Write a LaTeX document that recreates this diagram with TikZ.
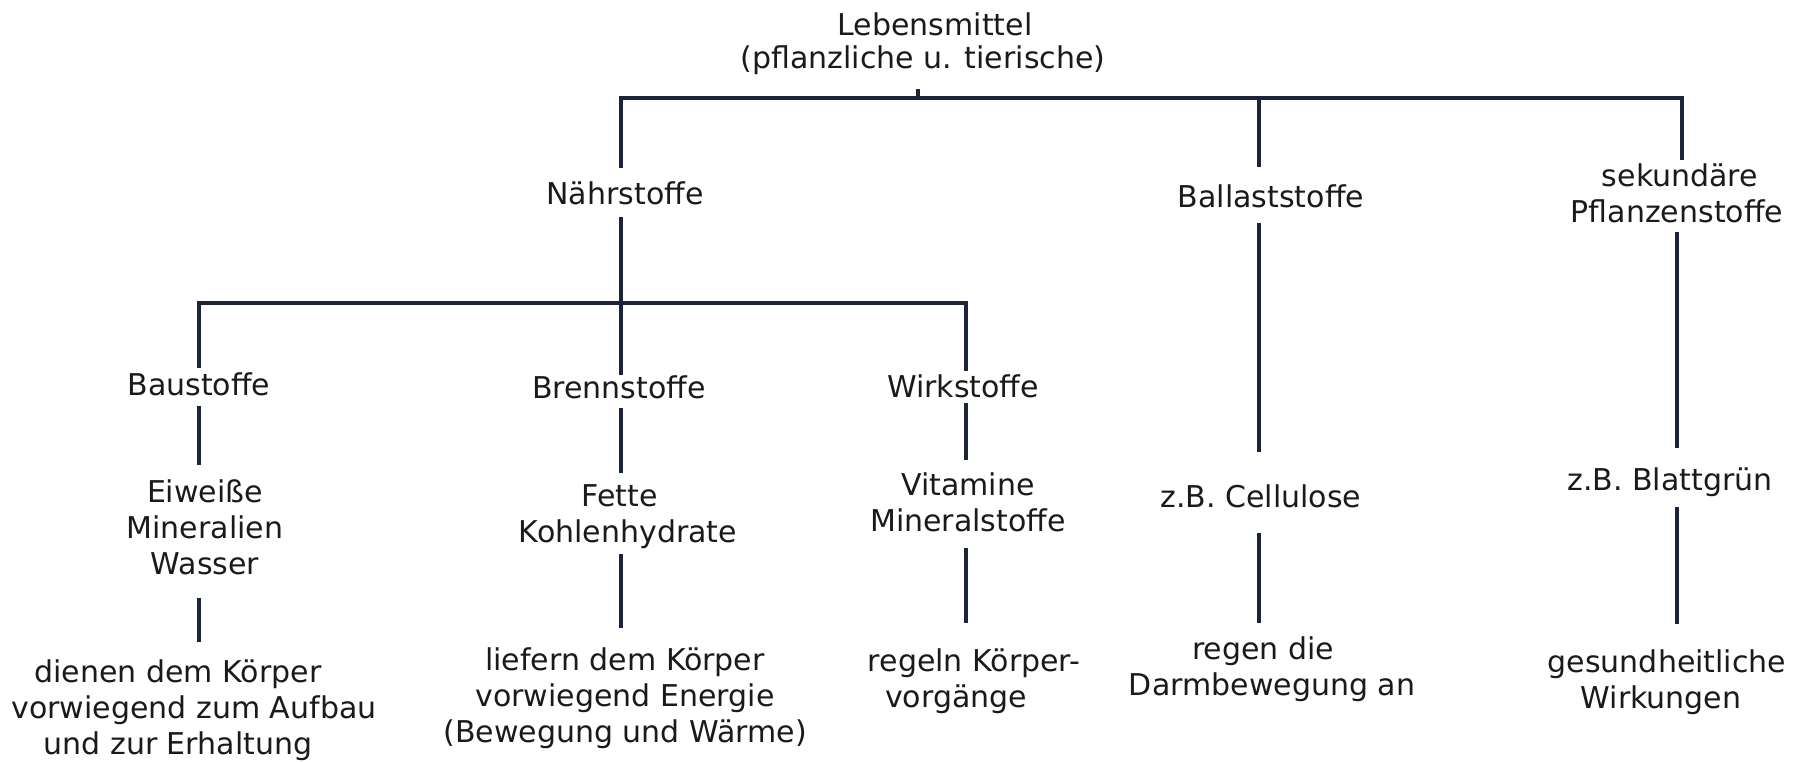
\documentclass[tikz,border=0pt]{standalone}
\usepackage{fontspec}
\setmainfont{DejaVu Sans}
\usetikzlibrary{calc}
\definecolor{linec}{HTML}{1B2438}
\definecolor{textc}{HTML}{1A1A1A}
\begin{document}
\begin{tikzpicture}[x=1pt,y=-1pt,
  lbl/.style={anchor=base, inner sep=0pt, align=center, text=textc,
              font=\fontsize{30}{36}\selectfont},
  conn/.style={draw=linec, line width=3.2pt, line join=miter}]
\useasboundingbox[fill=white] (0,0) rectangle (1805,761);

% text nodes (base = baseline of the last line)
\node[lbl] (leb)    at (923,68)  {\hspace*{24pt}Lebensmittel\\[-3pt](pflanzliche u. tierische)};
\node[lbl] (naehr)  at (625,204) {Nährstoffe};
\node[lbl] (ball)   at (1271,207){Ballaststoffe};
\node[lbl] (sek)    at (1677,222){\hspace*{6pt}sekundäre\\Pflanzenstoffe};
\node[lbl] (baus)   at (199,395) {Baustoffe};
\node[lbl] (brenn)  at (619,398) {Brennstoffe};
\node[lbl] (wirk)   at (963,397) {Wirkstoffe};
\node[lbl] (eiw)    at (205,574) {Eiweiße\\Mineralien\\Wasser};
\node[lbl] (fette)  at (628,542) {Fette\hspace*{17pt}\\Kohlenhydrate};
\node[lbl] (vit)    at (968,531) {Vitamine\\Mineralstoffe};
\node[lbl] (cell)   at (1261,507){z.B. Cellulose};
\node[lbl] (blatt)  at (1670,490){z.B. Blattgrün};
\node[lbl] (dienen) at (194,754) {dienen dem Körper\hspace*{32pt}\\vorwiegend zum Aufbau\\und zur Erhaltung\hspace*{32pt}};
\node[lbl] (liefern)at (625,742) {liefern dem Körper\\vorwiegend Energie\\(Bewegung und Wärme)};
\node[lbl] (regeln) at (974,707) {regeln Körper-\\vorgänge\hspace*{36pt}};
\node[lbl] (regen)  at (1272,695){regen die\hspace*{18pt}\\Darmbewegung an};
\node[lbl] (gesund) at (1667,708){gesundheitliche\\Wirkungen\hspace*{12pt}};

% junction coordinates
\coordinate (barL) at (621,98);
\coordinate (barM) at (918,98);
\coordinate (barB) at (1259,98);
\coordinate (barR) at (1682,98);
\coordinate (b2L)  at (199,303);
\coordinate (b2R)  at (966,303);
\coordinate (colS) at (1677,0);

% top level
\draw[conn] ($(barM |- leb.base)+(0,21)$) -- (barM);
\draw[conn] ($(barL |- naehr.base)+(0,-36)$) -- (barL) -- (barR) -- ($(barR |- sek.base)+(0,-62)$);
\draw[conn] (barB) -- ($(barB |- ball.base)+(0,-40)$);

% Naehrstoffe branch
\draw[conn] ($(barL |- naehr.base)+(0,13)$) -- ($(barL |- brenn.base)+(0,-23)$);
\draw[conn] ($(b2L |- baus.base)+(0,-27)$) -- (b2L) -- (b2R) -- ($(b2R |- wirk.base)+(0,-26)$);

% Baustoffe column
\draw[conn] ($(b2L |- baus.base)+(0,11)$) -- ($(b2L |- eiw.base)+(0,-109)$);
\draw[conn] ($(b2L |- eiw.base)+(0,24)$) -- ($(b2L |- dienen.base)+(0,-112)$);

% Brennstoffe column
\draw[conn] ($(barL |- brenn.base)+(0,10)$) -- ($(barL |- fette.base)+(0,-69)$);
\draw[conn] ($(barL |- fette.base)+(0,12)$) -- ($(barL |- liefern.base)+(0,-114)$);

% Wirkstoffe column
\draw[conn] ($(b2R |- wirk.base)+(0,6)$) -- ($(b2R |- vit.base)+(0,-71)$);
\draw[conn] ($(b2R |- vit.base)+(0,17)$) -- ($(b2R |- regeln.base)+(0,-84)$);

% Ballaststoffe column
\draw[conn] ($(barB |- ball.base)+(0,16)$) -- ($(barB |- cell.base)+(0,-55)$);
\draw[conn] ($(barB |- cell.base)+(0,26)$) -- ($(barB |- regen.base)+(0,-72)$);

% sekundaere Pflanzenstoffe column
\draw[conn] ($(colS |- sek.base)+(0,10)$) -- ($(colS |- blatt.base)+(0,-42)$);
\draw[conn] ($(colS |- blatt.base)+(0,17)$) -- ($(colS |- gesund.base)+(0,-84)$);
\end{tikzpicture}
\end{document}
